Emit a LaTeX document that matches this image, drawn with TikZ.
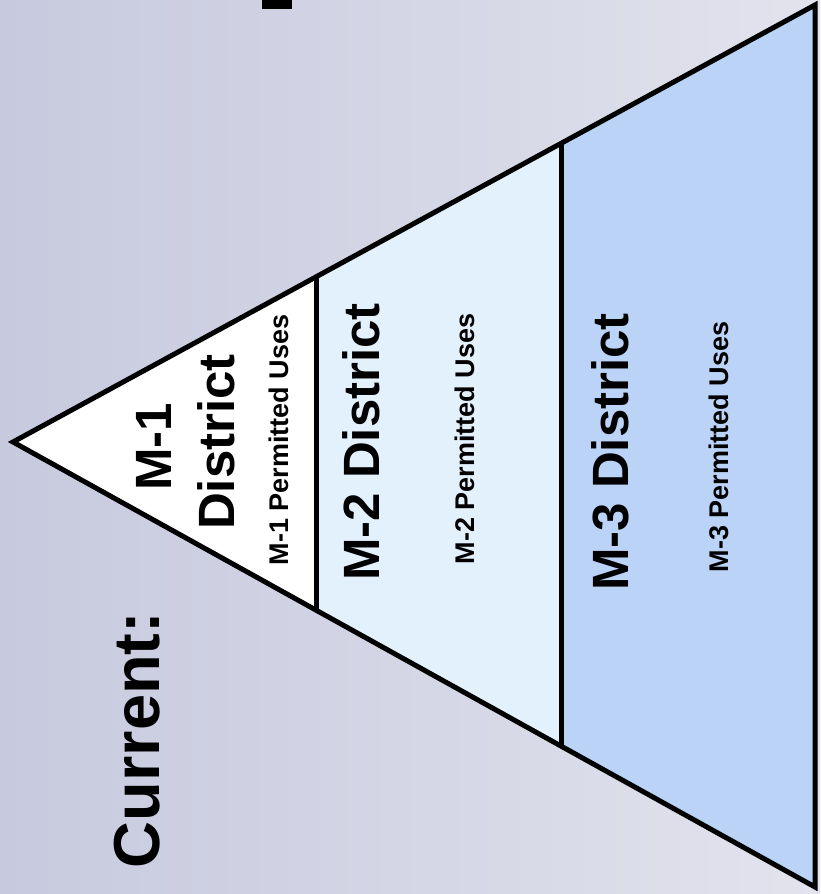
\documentclass[tikz,border=0pt]{standalone}
\usepackage{fontspec}
\setmainfont{Liberation Sans}
\usetikzlibrary{calc}
\definecolor{bgL}{RGB}{199,201,222}
\definecolor{bgR}{RGB}{226,227,237}
\definecolor{mtwo}{RGB}{227,241,253}
\definecolor{mthree}{RGB}{187,211,246}
\begin{document}
\begin{tikzpicture}[x=1pt,y=1pt,
  lbl/.style={rotate=90, inner sep=0pt, text=black},
  huge/.style={lbl, font=\bfseries\fontsize{65}{65}\selectfont},
  big/.style={lbl, font=\bfseries\fontsize{51}{51}\selectfont},
  small/.style={lbl, font=\bfseries\fontsize{27}{27}\selectfont},
  edge/.style={line width=5pt, line join=miter, draw=black}]
\useasboundingbox (0,0) rectangle (820,894);
\shade[left color=bgL, right color=bgR] (0,0) rectangle (820,894);
% triangle vertices
\coordinate (A) at (13,452);
\coordinate (T) at (815,889);
\coordinate (B) at (815,7);
\coordinate (t1) at ($(A)!0.379!(T)$);
\coordinate (b1) at ($(A)!0.379!(B)$);
\coordinate (t2) at ($(A)!0.6845!(T)$);
\coordinate (b2) at ($(A)!0.6845!(B)$);
% fills
\fill[white] (A) -- (t1) -- (b1) -- cycle;
\fill[mtwo] (t1) -- (t2) -- (b2) -- (b1) -- cycle;
\fill[mthree] (t2) -- (T) -- (B) -- (b2) -- cycle;
% outlines
\draw[edge] (A) -- (T) -- (B) -- cycle;
\draw[edge] (t1) -- (b1);
\draw[edge] (t2) -- (b2);
% partial mark at top edge
\fill[black] (262,885) rectangle (292,894);
% labels
\node[huge] (cur) at (137,154) {Current:};
\node[big] (m1a) at (154,447) {M-1};
\node[big] (m1b) at (216,452) {District};
\node[small] (m1c) at (279,454) {M-1 Permitted Uses};
\node[big] (m2a) at (361,452) {M-2 District};
\node[small] (m2c) at (465,455) {M-2 Permitted Uses};
\node[big] (m3a) at (610,442) {M-3 District};
\node[small] (m3c) at (719,447) {M-3 Permitted Uses};
\end{tikzpicture}
\end{document}
